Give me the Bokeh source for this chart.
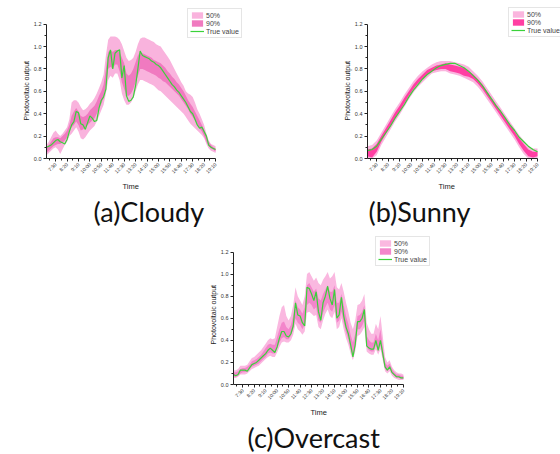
import math
from bokeh.plotting import figure
from bokeh.models import (Range1d, FixedTicker, PrintfTickFormatter, Legend,
                          LegendItem, Title, Spacer)
from bokeh.layouts import column, row
from bokeh.embed import file_html
from bokeh.resources import INLINE

# ---------------- data ----------------
TICK_LABELS = ["7:30", "8:20", "9:10", "10:00", "10:50", "11:40", "12:30", "13:20",
               "14:10", "15:00", "15:50", "16:40", "17:30", "18:20", "19:10"]
START, END = "6:50", "19:10"

def to_min(s):
    h, m = s.split(":")
    return int(h) * 60 + int(m)

# 10-minute grid (cloudy, overcast) and 20-minute grid (sunny)
T10 = list(range(to_min(START), to_min(END) + 1, 10))
T20 = list(range(to_min(START), to_min(END) + 1, 20))

cloudy_true = [0.10, 0.11, 0.12, 0.14, 0.16, 0.17, 0.15, 0.14, 0.13, 0.17,
               0.24, 0.30, 0.33, 0.42, 0.41, 0.31, 0.30, 0.26, 0.32, 0.38,
               0.36, 0.33, 0.34, 0.45, 0.52, 0.55, 0.62, 0.90, 0.97, 0.80,
               0.94, 0.96, 0.97, 0.72, 0.83, 0.56, 0.51, 0.52, 0.55, 0.65,
               0.80, 0.96, 0.92, 0.91, 0.90, 0.89, 0.87, 0.86, 0.84, 0.83,
               0.81, 0.78, 0.75, 0.72, 0.69, 0.66, 0.64, 0.61, 0.59, 0.56,
               0.53, 0.50, 0.46, 0.42, 0.40, 0.35, 0.30, 0.27, 0.28, 0.24,
               0.20, 0.12, 0.10, 0.09, 0.08]
cloudy_lo50 = [0.03, 0.05, 0.07, 0.09, 0.10, 0.08, 0.04, 0.08, 0.12, 0.15,
               0.20, 0.22, 0.25, 0.28, 0.24, 0.18, 0.17, 0.19, 0.22, 0.25,
               0.27, 0.29, 0.33, 0.38, 0.43, 0.48, 0.58, 0.70, 0.74, 0.72,
               0.76, 0.76, 0.70, 0.58, 0.52, 0.48, 0.48, 0.50, 0.54, 0.60,
               0.66, 0.70, 0.70, 0.69, 0.68, 0.67, 0.66, 0.65, 0.63, 0.61,
               0.60, 0.58, 0.56, 0.54, 0.52, 0.50, 0.48, 0.46, 0.44, 0.42,
               0.40, 0.37, 0.34, 0.31, 0.29, 0.27, 0.25, 0.23, 0.21, 0.18,
               0.13, 0.09, 0.07, 0.06, 0.05]
cloudy_lo90 = [0.05, 0.07, 0.09, 0.11, 0.12, 0.13, 0.13, 0.14, 0.16, 0.19,
               0.24, 0.28, 0.30, 0.33, 0.30, 0.25, 0.26, 0.28, 0.30, 0.32,
               0.34, 0.36, 0.40, 0.45, 0.49, 0.54, 0.65, 0.80, 0.82, 0.80,
               0.84, 0.84, 0.78, 0.68, 0.62, 0.56, 0.56, 0.58, 0.62, 0.68,
               0.74, 0.80, 0.80, 0.79, 0.78, 0.77, 0.76, 0.75, 0.74, 0.72,
               0.71, 0.69, 0.68, 0.66, 0.64, 0.62, 0.60, 0.58, 0.56, 0.53,
               0.50, 0.47, 0.44, 0.40, 0.37, 0.34, 0.31, 0.27, 0.24, 0.20,
               0.15, 0.11, 0.09, 0.08, 0.06]
cloudy_hi90 = [0.10, 0.12, 0.15, 0.18, 0.19, 0.19, 0.18, 0.20, 0.22, 0.25,
               0.30, 0.38, 0.42, 0.45, 0.42, 0.38, 0.37, 0.38, 0.40, 0.43,
               0.45, 0.47, 0.51, 0.56, 0.60, 0.66, 0.80, 0.95, 0.97, 0.95,
               0.97, 0.97, 0.95, 0.90, 0.85, 0.76, 0.74, 0.76, 0.80, 0.86,
               0.92, 0.95, 0.94, 0.93, 0.92, 0.91, 0.90, 0.88, 0.87, 0.86,
               0.85, 0.83, 0.81, 0.78, 0.76, 0.73, 0.71, 0.68, 0.66, 0.63,
               0.60, 0.56, 0.52, 0.49, 0.46, 0.42, 0.38, 0.34, 0.30, 0.26,
               0.20, 0.15, 0.12, 0.10, 0.09]
cloudy_hi50 = [0.12, 0.15, 0.19, 0.23, 0.25, 0.22, 0.20, 0.22, 0.25, 0.28,
               0.35, 0.50, 0.52, 0.52, 0.50, 0.46, 0.43, 0.44, 0.46, 0.49,
               0.51, 0.54, 0.58, 0.63, 0.68, 0.75, 0.92, 1.06, 1.09, 1.09,
               1.09, 1.08, 1.06, 1.02, 0.96, 0.90, 0.87, 0.88, 0.90, 0.95,
               1.02, 1.07, 1.08, 1.08, 1.07, 1.06, 1.05, 1.04, 1.02, 1.01,
               1.00, 0.97, 0.94, 0.91, 0.88, 0.84, 0.80, 0.76, 0.72, 0.68,
               0.65, 0.60, 0.58, 0.57, 0.55, 0.50, 0.44, 0.40, 0.35, 0.30,
               0.22, 0.16, 0.13, 0.12, 0.11]

sunny_true = [0.07, 0.08, 0.11, 0.17, 0.23, 0.29, 0.36, 0.42, 0.48, 0.55,
              0.61, 0.66, 0.71, 0.75, 0.78, 0.81, 0.83, 0.84, 0.85, 0.85,
              0.83, 0.81, 0.78, 0.74, 0.70, 0.65, 0.59, 0.53, 0.47, 0.42,
              0.36, 0.30, 0.25, 0.19, 0.15, 0.11, 0.08, 0.06]
sunny_lo50 = [0.00, 0.00, 0.03, 0.12, 0.19, 0.26, 0.33, 0.39, 0.46, 0.53,
              0.59, 0.64, 0.68, 0.72, 0.76, 0.77, 0.78, 0.78, 0.76, 0.75,
              0.74, 0.72, 0.70, 0.68, 0.64, 0.59, 0.53, 0.47, 0.41, 0.35,
              0.29, 0.23, 0.17, 0.10, 0.04, 0.00, 0.00, 0.00]
sunny_lo90 = [0.02, 0.01, 0.06, 0.15, 0.22, 0.29, 0.36, 0.42, 0.49, 0.56,
              0.62, 0.67, 0.71, 0.75, 0.78, 0.79, 0.80, 0.80, 0.78, 0.77,
              0.76, 0.74, 0.73, 0.71, 0.67, 0.62, 0.56, 0.50, 0.44, 0.38,
              0.32, 0.26, 0.20, 0.13, 0.07, 0.02, 0.01, 0.02]
sunny_hi90 = [0.08, 0.09, 0.13, 0.20, 0.27, 0.34, 0.41, 0.47, 0.54, 0.60,
              0.66, 0.71, 0.75, 0.79, 0.81, 0.83, 0.84, 0.85, 0.84, 0.83,
              0.82, 0.81, 0.78, 0.75, 0.71, 0.66, 0.60, 0.54, 0.48, 0.42,
              0.36, 0.30, 0.24, 0.18, 0.13, 0.08, 0.06, 0.06]
sunny_hi50 = [0.11, 0.12, 0.16, 0.23, 0.30, 0.37, 0.44, 0.50, 0.57, 0.63,
              0.69, 0.74, 0.78, 0.81, 0.84, 0.86, 0.87, 0.87, 0.87, 0.86,
              0.85, 0.84, 0.82, 0.78, 0.74, 0.69, 0.63, 0.57, 0.51, 0.45,
              0.39, 0.33, 0.27, 0.21, 0.16, 0.11, 0.09, 0.09]

overcast_true = [0.09, 0.08, 0.09, 0.13, 0.13, 0.13, 0.12, 0.15, 0.18, 0.19,
                 0.20, 0.22, 0.24, 0.26, 0.28, 0.31, 0.33, 0.31, 0.29, 0.34,
                 0.42, 0.48, 0.48, 0.44, 0.43, 0.46, 0.53, 0.74, 0.63, 0.62,
                 0.56, 0.53, 0.88, 0.87, 0.82, 0.76, 0.84, 0.66, 0.58, 0.74,
                 0.80, 0.89, 0.78, 0.72, 0.86, 0.60, 0.63, 0.79, 0.62, 0.52,
                 0.46, 0.36, 0.25, 0.36, 0.57, 0.57, 0.60, 0.68, 0.35, 0.33,
                 0.32, 0.32, 0.40, 0.31, 0.40, 0.28, 0.16, 0.13, 0.16, 0.11,
                 0.09, 0.07, 0.07, 0.06, 0.06]
overcast_lo50 = [0.06, 0.06, 0.07, 0.09, 0.09, 0.09, 0.10, 0.12, 0.14, 0.15,
                 0.16, 0.17, 0.19, 0.21, 0.23, 0.25, 0.26, 0.25, 0.25, 0.29,
                 0.34, 0.38, 0.39, 0.38, 0.38, 0.40, 0.45, 0.55, 0.50, 0.48,
                 0.45, 0.48, 0.65, 0.66, 0.64, 0.62, 0.63, 0.52, 0.50, 0.58,
                 0.64, 0.68, 0.62, 0.60, 0.66, 0.50, 0.52, 0.60, 0.50, 0.42,
                 0.36, 0.28, 0.22, 0.30, 0.44, 0.45, 0.48, 0.52, 0.30, 0.28,
                 0.27, 0.27, 0.32, 0.27, 0.32, 0.22, 0.12, 0.10, 0.12, 0.08,
                 0.06, 0.05, 0.04, 0.04, 0.04]
overcast_lo90 = [0.07, 0.07, 0.08, 0.10, 0.11, 0.11, 0.12, 0.14, 0.16, 0.17,
                 0.18, 0.19, 0.21, 0.23, 0.25, 0.28, 0.29, 0.28, 0.28, 0.33,
                 0.38, 0.42, 0.43, 0.41, 0.41, 0.44, 0.50, 0.60, 0.56, 0.54,
                 0.50, 0.54, 0.72, 0.74, 0.72, 0.68, 0.70, 0.58, 0.56, 0.65,
                 0.70, 0.74, 0.68, 0.66, 0.72, 0.56, 0.58, 0.66, 0.56, 0.47,
                 0.41, 0.32, 0.26, 0.34, 0.50, 0.50, 0.53, 0.58, 0.34, 0.31,
                 0.30, 0.30, 0.36, 0.30, 0.36, 0.25, 0.14, 0.12, 0.14, 0.10,
                 0.08, 0.06, 0.06, 0.05, 0.05]
overcast_hi90 = [0.11, 0.11, 0.12, 0.14, 0.15, 0.15, 0.16, 0.18, 0.21, 0.22,
                 0.23, 0.25, 0.27, 0.30, 0.33, 0.36, 0.37, 0.36, 0.36, 0.43,
                 0.50, 0.56, 0.57, 0.52, 0.50, 0.54, 0.62, 0.76, 0.70, 0.68,
                 0.64, 0.70, 0.90, 0.92, 0.88, 0.84, 0.87, 0.78, 0.76, 0.82,
                 0.86, 0.90, 0.84, 0.84, 0.90, 0.74, 0.74, 0.82, 0.72, 0.62,
                 0.55, 0.45, 0.38, 0.46, 0.62, 0.63, 0.66, 0.72, 0.44, 0.40,
                 0.38, 0.38, 0.46, 0.40, 0.50, 0.34, 0.20, 0.17, 0.19, 0.14,
                 0.11, 0.09, 0.09, 0.08, 0.08]
overcast_hi50 = [0.13, 0.13, 0.14, 0.17, 0.17, 0.17, 0.18, 0.21, 0.24, 0.25,
                 0.27, 0.29, 0.31, 0.34, 0.37, 0.40, 0.42, 0.41, 0.42, 0.52,
                 0.62, 0.70, 0.72, 0.62, 0.58, 0.62, 0.72, 0.88, 0.80, 0.76,
                 0.72, 0.80, 1.00, 1.02, 0.98, 0.94, 0.97, 0.92, 0.90, 0.95,
                 0.98, 1.02, 0.96, 0.98, 1.02, 0.88, 0.86, 0.92, 0.84, 0.74,
                 0.66, 0.56, 0.50, 0.58, 0.72, 0.73, 0.76, 0.82, 0.56, 0.50,
                 0.46, 0.46, 0.55, 0.50, 0.62, 0.44, 0.25, 0.20, 0.22, 0.16,
                 0.13, 0.11, 0.10, 0.10, 0.09]

Y_TICKS = [0.0, 0.2, 0.4, 0.6, 0.8, 1.0, 1.2]
Y_MINOR = [0.1, 0.3, 0.5, 0.7, 0.9, 1.1]
Y_MAX = 1.2
X_LABEL = "Time"
Y_LABEL = "Photovoltaic output"

GREEN = "#3ad23a"
AXIS_FONT = "Liberation Sans"
CAP_FONT = "Lato"


def panel(t, true, lo50, lo90, hi90, hi50, c50, c90, caption, w, h,
          bl, bt, br, bb, y_end, x_end, leg_xy, xlab_off, ylab_off, cap_off):
    # the frame is a little larger than the axes' extent so that the legend,
    # which sits over the top-right corner, is not clipped
    p = figure(width=w, height=h, output_backend="svg", toolbar_location=None,
               x_range=Range1d(to_min(START), x_end),
               y_range=Range1d(0, y_end),
               min_border_left=bl, min_border_top=bt, min_border_right=br,
               min_border_bottom=bb)
    p.outline_line_color = None
    p.grid.visible = False
    p.background_fill_color = "white"
    p.border_fill_color = "white"

    r50 = p.varea(x=t, y1=lo50, y2=hi50, fill_color=c50, fill_alpha=1.0)
    r90 = p.varea(x=t, y1=lo90, y2=hi90, fill_color=c90, fill_alpha=1.0)
    rt = p.line(x=t, y=true, line_color=GREEN, line_width=1.2)

    major = [to_min(s) for s in TICK_LABELS]
    minor = [m - 25 for m in major]
    xa = p.xaxis[0]
    xa.ticker = FixedTicker(ticks=major, minor_ticks=minor)
    xa.bounds = (to_min(START), to_min(END))
    xa.major_label_overrides = {m: s for m, s in zip(major, TICK_LABELS)}
    xa.major_label_orientation = math.pi / 4
    ya = p.yaxis[0]
    ya.ticker = FixedTicker(ticks=Y_TICKS, minor_ticks=Y_MINOR)
    ya.bounds = (0, Y_MAX)
    ya.formatter = PrintfTickFormatter(format="%.1f")
    for ax in (xa, ya):
        ax.axis_line_color = "#222222"
        ax.axis_line_width = 1
        ax.major_tick_line_color = "#222222"
        ax.minor_tick_line_color = "#222222"
        ax.major_tick_out = 3
        ax.major_tick_in = 0
        ax.minor_tick_out = 2
        ax.minor_tick_in = 0
        ax.major_label_text_font = AXIS_FONT
        ax.major_label_text_color = "#333333"
        ax.major_label_standoff = 2
    xa.major_label_text_font_size = "5px"
    ya.major_label_text_font_size = "5.5px"

    # axis titles placed along the axes' bounds (not the enlarged frame)
    p.add_layout(Title(text=X_LABEL, align="left", offset=xlab_off,
                       text_font=AXIS_FONT, text_font_size="7.5px",
                       text_font_style="normal", text_color="#222222",
                       standoff=1), "below")
    p.add_layout(Title(text=Y_LABEL, align="left", offset=ylab_off,
                       text_font=AXIS_FONT, text_font_size="7px",
                       text_font_style="normal", text_color="#222222",
                       standoff=2), "left")

    leg = Legend(items=[LegendItem(label="50%", renderers=[r50]),
                        LegendItem(label="90%", renderers=[r90]),
                        LegendItem(label="True value", renderers=[rt])],
                 location=leg_xy, orientation="vertical",
                 label_text_font=AXIS_FONT, label_text_font_size="7px",
                 label_height=8, glyph_height=8, glyph_width=14,
                 spacing=0, padding=2, margin=0, label_standoff=2,
                 border_line_color="#cccccc", border_line_width=1,
                 background_fill_color="white", background_fill_alpha=1.0)
    p.add_layout(leg, "center")

    p.add_layout(Title(text=caption, align="left", text_font=CAP_FONT,
                       text_font_size="27px", text_font_style="normal",
                       text_color="#111111", offset=cap_off, standoff=2),
                 "below")
    return p


fa = panel(T10, cloudy_true, cloudy_lo50, cloudy_lo90, cloudy_hi90, cloudy_hi50,
           "#f9b3dd", "#f07ac0", "(a)Cloudy", 280, 228, 46, 4, 30, 67,
           1.3752, 1303, (141, 120), 76, 38, 47)
fb = panel(T20, sunny_true, sunny_lo50, sunny_lo90, sunny_hi90, sunny_hi50,
           "#fab5de", "#ff3fa3", "(b)Sunny", 280, 228, 87, 4, 0, 67,
           1.3752, 1250, (141, 121), 71, 38, 1)
fc = panel(T10, overcast_true, overcast_lo50, overcast_lo90, overcast_hi90,
           overcast_hi50, "#fab8e0", "#f386cb", "(c)Overcast", 280, 226,
           53, 6, 10, 66, 1.3588, 1355, (142, 118), 77, 40, 14)

layout = column(row(fa, fb), row(Spacer(width=180, height=226), fc))

open("out.html", "w").write(file_html(layout, INLINE))
